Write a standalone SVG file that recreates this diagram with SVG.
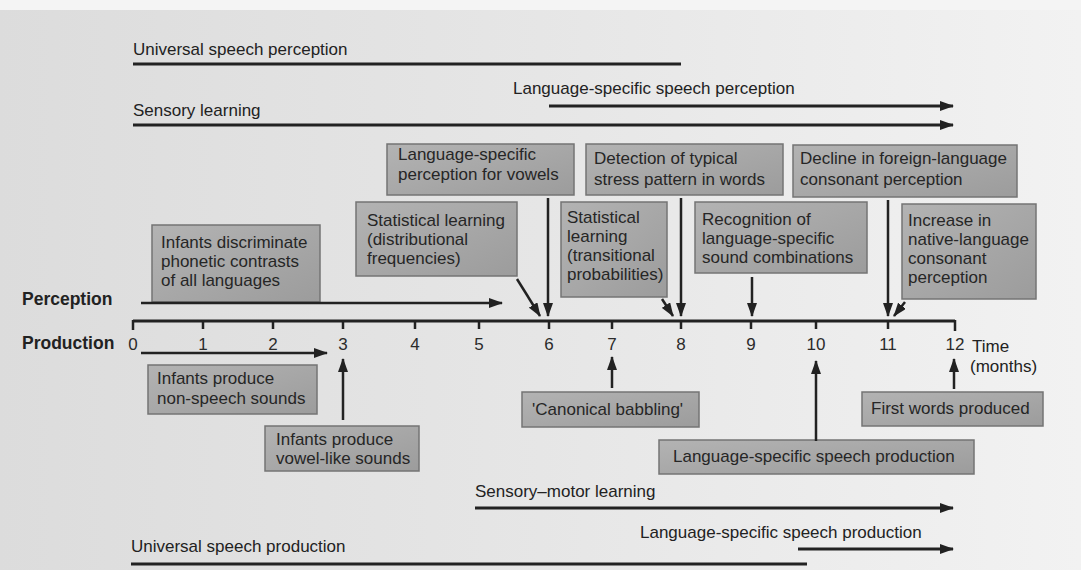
<svg xmlns="http://www.w3.org/2000/svg" width="1081" height="570" viewBox="0 0 1081 570">
<defs>
<linearGradient id="bg" x1="0" y1="0" x2="1" y2="0">
<stop offset="0" stop-color="#dcdcdc"/>
<stop offset="0.5" stop-color="#e6e6e6"/>
<stop offset="1" stop-color="#f2f2f2"/>
</linearGradient>
<linearGradient id="boxfill" x1="0" y1="0" x2="1" y2="1">
<stop offset="0" stop-color="#b3b3b3"/>
<stop offset="1" stop-color="#9c9c9c"/>
</linearGradient>
<marker id="ah" markerWidth="14" markerHeight="10" refX="13" refY="5" orient="auto" markerUnits="userSpaceOnUse">
<path d="M0,0 L14,5 L0,10 Z" fill="#222"/>
</marker>
<style>
.box{fill:url(#boxfill);stroke:#747474;stroke-width:1.5}
.bt{font-family:"Liberation Sans",Arial,sans-serif;font-size:17px;fill:#262626}
.lbl{font-family:"Liberation Sans",Arial,sans-serif;font-size:17px;fill:#222}
.bold{font-family:"Liberation Sans",Arial,sans-serif;font-size:17.5px;font-weight:bold;fill:#222}
.num{font-family:"Liberation Sans",Arial,sans-serif;font-size:17px;fill:#2b2b2b;text-anchor:middle}
.bar{stroke:#222;stroke-width:3;fill:none}
.arr{stroke:#222;stroke-width:2.5;fill:none;marker-end:url(#ah)}
.barr{stroke:#222;stroke-width:3;fill:none;marker-end:url(#ah)}
.tick{stroke:#222;stroke-width:2.5}
</style>
</defs>
<rect x="0" y="0" width="1081" height="570" fill="url(#bg)"/>
<rect x="0" y="0" width="1081" height="10" fill="#f4f4f4"/>

<g id="axis">
<line class="bar" x1="133" y1="321" x2="955" y2="321"/>
<g class="tick">
<line x1="133" y1="320" x2="133" y2="330"/><line x1="203" y1="321" x2="203" y2="329"/><line x1="273" y1="321" x2="273" y2="329"/><line x1="343" y1="321" x2="343" y2="329"/><line x1="415" y1="321" x2="415" y2="329"/><line x1="479" y1="321" x2="479" y2="329"/><line x1="549" y1="321" x2="549" y2="329"/><line x1="612" y1="321" x2="612" y2="329"/><line x1="681" y1="321" x2="681" y2="329"/><line x1="751" y1="321" x2="751" y2="329"/><line x1="816" y1="321" x2="816" y2="329"/><line x1="888" y1="321" x2="888" y2="329"/><line x1="955" y1="320" x2="955" y2="331"/>
</g>
<text class="num" x="133" y="350">0</text><text class="num" x="203" y="350">1</text><text class="num" x="273" y="350">2</text><text class="num" x="343" y="350">3</text><text class="num" x="415" y="350">4</text><text class="num" x="479" y="350">5</text><text class="num" x="549" y="350">6</text><text class="num" x="612" y="350">7</text><text class="num" x="681" y="350">8</text><text class="num" x="751" y="350">9</text><text class="num" x="816" y="350">10</text><text class="num" x="888" y="350">11</text><text class="num" x="955" y="350">12</text>
<text class="lbl" x="972" y="352">Time</text>
<text class="lbl" x="970" y="372">(months)</text>
<text class="bold" x="22" y="305">Perception</text>
<text class="bold" x="22" y="349">Production</text>
</g>

<g id="phase-labels">
<text class="lbl" x="133" y="55">Universal speech perception</text>
<text class="lbl" x="513" y="94">Language-specific speech perception</text>
<text class="lbl" x="133" y="116">Sensory learning</text>
<text class="lbl" x="475" y="497">Sensory–motor learning</text>
<text class="lbl" x="640" y="538">Language-specific speech production</text>
<text class="lbl" x="131" y="552">Universal speech production</text>
</g>

<g id="n-vowels"><rect class="box" x="387" y="144" width="187" height="51"/><text class="bt" x="398" y="160">Language-specific</text><text class="bt" x="398" y="180">perception for vowels</text></g>
<g id="n-stress"><rect class="box" x="586" y="144" width="197" height="51"/><text class="bt" x="594" y="164">Detection of typical</text><text class="bt" x="594" y="185">stress pattern in words</text></g>
<g id="n-decline"><rect class="box" x="793" y="145" width="224" height="52"/><text class="bt" x="800" y="164">Decline in foreign-language</text><text class="bt" x="800" y="185">consonant perception</text></g>
<g id="n-distributional"><rect class="box" x="356" y="202" width="161" height="74"/><text class="bt" x="367" y="226">Statistical learning</text><text class="bt" x="367" y="245">(distributional</text><text class="bt" x="367" y="264">frequencies)</text></g>
<g id="n-transitional"><rect class="box" x="561" y="202" width="106" height="95"/><text class="bt" x="567" y="223">Statistical</text><text class="bt" x="567" y="242">learning</text><text class="bt" x="567" y="261">(transitional</text><text class="bt" x="567" y="280">probabilities)</text></g>
<g id="n-recognition"><rect class="box" x="695" y="202" width="172" height="71"/><text class="bt" x="702" y="225">Recognition of</text><text class="bt" x="702" y="244">language-specific</text><text class="bt" x="702" y="263">sound combinations</text></g>
<g id="n-increase"><rect class="box" x="902" y="204" width="134" height="95"/><text class="bt" x="908" y="226">Increase in</text><text class="bt" x="908" y="245">native-language</text><text class="bt" x="908" y="264">consonant</text><text class="bt" x="908" y="283">perception</text></g>
<g id="n-discriminate"><rect class="box" x="152" y="225" width="168" height="77"/><text class="bt" x="161" y="248">Infants discriminate</text><text class="bt" x="161" y="267">phonetic contrasts</text><text class="bt" x="161" y="286">of all languages</text></g>
<g id="n-nonspeech"><rect class="box" x="148" y="365" width="169" height="49"/><text class="bt" x="157" y="384">Infants produce</text><text class="bt" x="157" y="404">non-speech sounds</text></g>
<g id="n-vowellike"><rect class="box" x="265" y="426" width="154" height="45"/><text class="bt" x="276" y="445">Infants produce</text><text class="bt" x="276" y="464">vowel-like sounds</text></g>
<g id="n-canonical"><rect class="box" x="522" y="392" width="177" height="35"/><text class="bt" x="532" y="415">'Canonical babbling'</text></g>
<g id="n-firstwords"><rect class="box" x="862" y="392" width="181" height="34"/><text class="bt" x="871" y="414">First words produced</text></g>
<g id="n-lsproduction"><rect class="box" x="659" y="440" width="315" height="34"/><text class="bt" x="673" y="462">Language-specific speech production</text></g>

<g id="connectors">
<line class="bar" x1="133" y1="64" x2="681" y2="64"/>
<line class="barr" x1="549" y1="106" x2="953" y2="106"/>
<line class="barr" x1="133" y1="125" x2="953" y2="125"/>
<line class="barr" x1="475" y1="508" x2="953" y2="508"/>
<line class="barr" x1="798" y1="549" x2="953" y2="549"/>
<line class="bar" x1="131" y1="564" x2="807" y2="564"/>
<line class="arr" x1="141" y1="303" x2="502" y2="303"/>
<line class="arr" x1="141" y1="353" x2="327" y2="353"/>
<line class="arr" x1="517" y1="279" x2="540" y2="316"/>
<line class="arr" x1="548" y1="198" x2="548" y2="316"/>
<line class="arr" x1="662" y1="299" x2="673" y2="316"/>
<line class="arr" x1="681" y1="198" x2="681" y2="316"/>
<line class="arr" x1="752" y1="277" x2="752" y2="316"/>
<line class="arr" x1="888" y1="200" x2="888" y2="316"/>
<line class="arr" x1="905" y1="302" x2="894" y2="316"/>
<line class="arr" x1="343" y1="420" x2="343" y2="359"/>
<line class="arr" x1="612" y1="388" x2="612" y2="357"/>
<line class="arr" x1="816" y1="441" x2="816" y2="361"/>
<line class="arr" x1="954" y1="389" x2="954" y2="359"/>
</g>
</svg>
